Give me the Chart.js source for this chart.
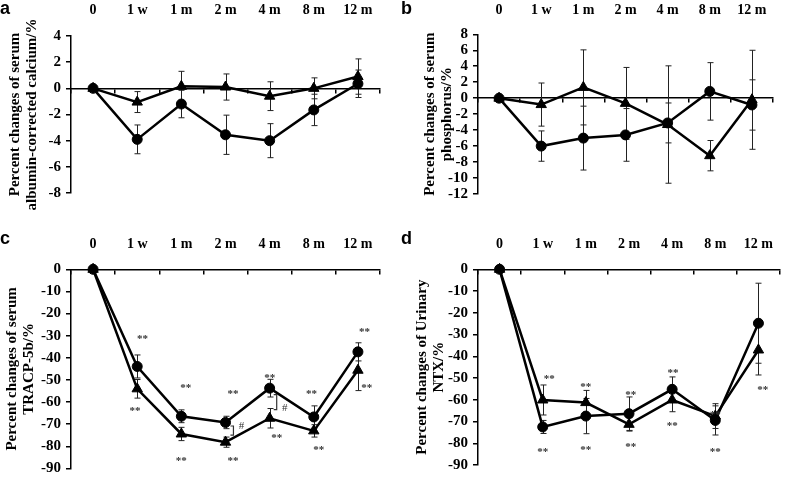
<!DOCTYPE html>
<html>
<head>
<meta charset="utf-8">
<script src="https://cdn.jsdelivr.net/npm/chart.js@4/dist/chart.umd.min.js"></script>
<style>
  html, body { margin: 0; padding: 0; background: #fff; }
  #wrap { position: relative; width: 787px; height: 481px; overflow: hidden; background: #fff; }
  canvas { position: absolute; }
</style>
</head>
<body>
<div id="wrap">
  <canvas id="pa" width="393" height="230" style="left:0;top:0"></canvas>
  <canvas id="pb" width="394" height="230" style="left:393px;top:0"></canvas>
  <canvas id="pc" width="393" height="251" style="left:0;top:230px"></canvas>
  <canvas id="pd" width="394" height="251" style="left:393px;top:230px"></canvas>
</div>
<script>
// ---- categories ----
const timePoints = ['0', '1 w', '1 m', '2 m', '4 m', '8 m', '12 m'];

// ---- panel a: serum albumin-corrected calcium (%) ----
const calciumCircle     = [0, -3.9, -1.2, -3.55, -4.0, -1.65, 0.35];
const calciumCircleSD   = [0, 1.1, 1.05, 1.5, 1.3, 1.2, 1.05];
const calciumTriangle   = [0, -1.05, 0.15, 0.1, -0.6, 0.0, 0.9];
const calciumTriangleSD = [0, 0.8, 1.15, 1.0, 1.1, 0.8, 1.35];

// ---- panel b: serum phosphorus (%) ----
const phosCircle     = [0, -6.0, -5.0, -4.6, -3.1, 0.85, -0.85];
const phosCircleSD   = [0, 1.9, 4.0, 3.3, 2.5, 3.6, 3.15];
const phosTriangle   = [0, -0.8, 1.35, -0.65, -3.3, -7.2, -0.2];
const phosTriangleSD = [0, 2.7, 4.7, 4.5, 7.35, 1.9, 6.2];

// ---- panel c: serum TRACP-5b (%) ----
const tracpCircle     = [0, -43.9, -66.4, -69.2, -53.7, -66.7, -37.3];
const tracpCircleSD   = [0, 5.2, 2.9, 2.8, 4.0, 5.0, 4.1];
const tracpTriangle   = [0, -54.0, -74.4, -78.1, -67.3, -73.0, -45.6];
const tracpTriangleSD = [0, 4.2, 3.0, 2.3, 4.4, 2.8, 9.2];

// ---- panel d: urinary NTX (%) ----
const ntxCircle     = [0, -72.5, -67.5, -66.4, -55.2, -69.5, -24.8];
const ntxCircleSD   = [0, 3.0, 8.1, 7.7, 5.7, 6.7, 18.4];
const ntxTriangle   = [0, -60.1, -61.3, -71.3, -60.1, -67.5, -37.1];
const ntxTriangleSD = [0, 6.9, 5.6, 3.1, 5.4, 5.7, 11.5];

// ---- significance marks: [category position, value] ----
const tracpStars = [[1.12, -30.3], [0.95, -62.7], [2.1, -52.5], [2.0, -85.5], [3.17, -55.1], [3.17, -85.5],
                    [4.0, -47.8], [4.16, -74.9], [4.95, -55.1], [5.11, -80.4], [6.15, -27.2], [6.2, -52.5]];
const tracpHashes = [[3.18, -70.8, -74.9, -70.9], [4.16, -56.6, -63.4, -62.9]]; // [position, from, to, '#' value]
const ntxStars = [[1.15, -49.1], [1.0, -82.8], [2.0, -52.8], [2.0, -81.6], [3.04, -56.7], [3.04, -80.4],
                  [4.02, -46.2], [4.0, -70.7], [5.0, -65.6], [5.0, -82.8], [6.1, -54.0]];

const SERIF = "'Liberation Serif', 'Times New Roman', serif";
const SANS = "'Liberation Sans', Arial, sans-serif";
Chart.defaults.color = '#000';

const errorBarPlugin = {
  id: 'errorBars',
  beforeDatasetsDraw(chart) {
    const ctx = chart.ctx, xs = chart.scales.x, ys = chart.scales.y;
    ctx.save();
    ctx.strokeStyle = '#222';
    ctx.lineWidth = 1;
    chart.data.datasets.forEach(ds => {
      if (!ds.errors) return;
      ds.data.forEach((v, i) => {
        const e = ds.errors[i];
        if (!e) return;
        const px = Math.round(xs.getPixelForValue(i)) + 0.5;
        const t = ys.getPixelForValue(v + e), b = ys.getPixelForValue(v - e);
        ctx.beginPath();
        ctx.moveTo(px, t); ctx.lineTo(px, b);
        ctx.moveTo(px - 3, t); ctx.lineTo(px + 3, t);
        ctx.moveTo(px - 3, b); ctx.lineTo(px + 3, b);
        ctx.stroke();
      });
    });
    ctx.restore();
  }
};

function makeMarks(stars, hashes) {
  return {
    id: 'marks',
    afterDatasetsDraw(chart) {
      const ctx = chart.ctx, xs = chart.scales.x, ys = chart.scales.y;
      ctx.save();
      ctx.fillStyle = '#333';
      ctx.strokeStyle = '#333';
      ctx.lineWidth = 1.2;
      ctx.textAlign = 'center';
      ctx.textBaseline = 'middle';
      ctx.font = 'bold 11px ' + SERIF;
      stars.forEach(([at, v]) => ctx.fillText('**', xs.getPixelForValue(at), ys.getPixelForValue(v) + 3));
      ctx.font = '11px ' + SERIF;
      hashes.forEach(([at, from, to, hv]) => {
        const px = xs.getPixelForValue(at);
        const y1 = ys.getPixelForValue(from), y2 = ys.getPixelForValue(to);
        ctx.beginPath();
        ctx.moveTo(px - 3, y1); ctx.lineTo(px, y1); ctx.lineTo(px, y2); ctx.lineTo(px - 3, y2);
        ctx.stroke();
        ctx.fillText('#', px + 8, ys.getPixelForValue(hv));
      });
      ctx.restore();
    }
  };
}

function buildPanel(id, o) {
  const xFont = { family: SERIF, size: 14, weight: 'bold' };
  const yFont = { family: SERIF, size: 15, weight: 'bold', lineHeight: 1 };
  new Chart(document.getElementById(id), {
    type: 'line',
    data: {
      labels: timePoints,
      datasets: [
        { label: 'Circle group', data: o.circle, errors: o.circleSD, pointStyle: 'circle', pointRadius: 5,
          borderColor: '#000', backgroundColor: '#000', pointBackgroundColor: '#000', pointBorderColor: '#000',
          pointBorderWidth: 1, borderWidth: 2.5, tension: 0, fill: false, clip: false },
        { label: 'Triangle group', data: o.tri, errors: o.triSD, pointStyle: 'triangle', pointRadius: 6,
          borderColor: '#000', backgroundColor: '#000', pointBackgroundColor: '#000', pointBorderColor: '#000',
          pointBorderWidth: 1, borderWidth: 2.5, tension: 0, fill: false, clip: false }
      ]
    },
    options: {
      responsive: false, animation: false, devicePixelRatio: 1,
      layout: { padding: o.pad },
      plugins: {
        legend: { display: false }, tooltip: { enabled: false },
        title: { display: true, text: o.letter, align: 'start', color: '#000',
                 font: { family: SANS, size: 18, weight: 'bold', lineHeight: 1 }, padding: { top: 0, bottom: -18 } }
      },
      scales: {
        x: {
          type: 'category', position: 'top', offset: true,
          border: { display: false }, grid: { display: false },
          ticks: { font: xFont, color: '#000', padding: o.xPad, maxRotation: 0, autoSkip: false },
          afterFit: s => { s.height = o.xH; }
        },
        x2: {
          type: 'category', axis: 'x', position: { y: 0 }, offset: true,
          border: { display: true, color: '#000', width: 1.5 },
          grid: { offset: true, drawOnChartArea: false, drawTicks: true, tickLength: 4, color: '#000', lineWidth: 1.5 },
          ticks: { display: false }
        },
        y: {
          min: o.min, max: o.max,
          border: { display: true, color: '#000', width: 1.5 },
          grid: { drawOnChartArea: false, drawTicks: true, tickLength: 5, color: '#000', lineWidth: 1.5 },
          ticks: { stepSize: o.step, font: yFont, color: '#000', padding: 5, autoSkip: false },
          title: { display: true, text: o.yTitle, color: '#000',
                   font: { family: SERIF, size: 15, weight: 'bold', lineHeight: 1.1 },
                   padding: { top: o.tPad, bottom: 0 } },
          afterFit: s => { s.width = o.yW; }
        }
      }
    },
    plugins: [errorBarPlugin, makeMarks(o.stars || [], o.hashes || [])]
  });
}

buildPanel('pa', {
  letter: 'a', circle: calciumCircle, circleSD: calciumCircleSD, tri: calciumTriangle, triSD: calciumTriangleSD,
  min: -8, max: 4, step: 2, yTitle: ['Percent changes of serum', 'albumin-corrected calcium/%'],
  pad: { left: 0, right: 13, top: 0, bottom: 37 }, xH: 36, xPad: 9.5, yW: 71, tPad: 7
});
buildPanel('pb', {
  letter: 'b', circle: phosCircle, circleSD: phosCircleSD, tri: phosTriangle, triSD: phosTriangleSD,
  min: -12, max: 8, step: 2, yTitle: ['Percent changes of serum', 'phosphorus/%'],
  pad: { left: 8, right: 14, top: 0, bottom: 36 }, xH: 34.3, xPad: 7.8, yW: 77, tPad: 21
});
buildPanel('pc', {
  letter: 'c', circle: tracpCircle, circleSD: tracpCircleSD, tri: tracpTriangle, triSD: tracpTriangleSD,
  min: -90, max: 0, step: 10, yTitle: ['Percent changes of serum', 'TRACP-5b/%'],
  pad: { left: 0, right: 13, top: 0, bottom: 6 }, xH: 39.3, xPad: 8.4, yW: 71, tPad: 4,
  stars: tracpStars, hashes: tracpHashes
});
buildPanel('pd', {
  letter: 'd', circle: ntxCircle, circleSD: ntxCircleSD, tri: ntxTriangle, triSD: ntxTriangleSD,
  min: -90, max: 0, step: 10, yTitle: ['Percent changes of Urinary', 'NTX/%'],
  pad: { left: 8, right: 2, top: 0, bottom: 16 }, xH: 39.3, xPad: 8.4, yW: 77, tPad: 13,
  stars: ntxStars
});
</script>
</body>
</html>
